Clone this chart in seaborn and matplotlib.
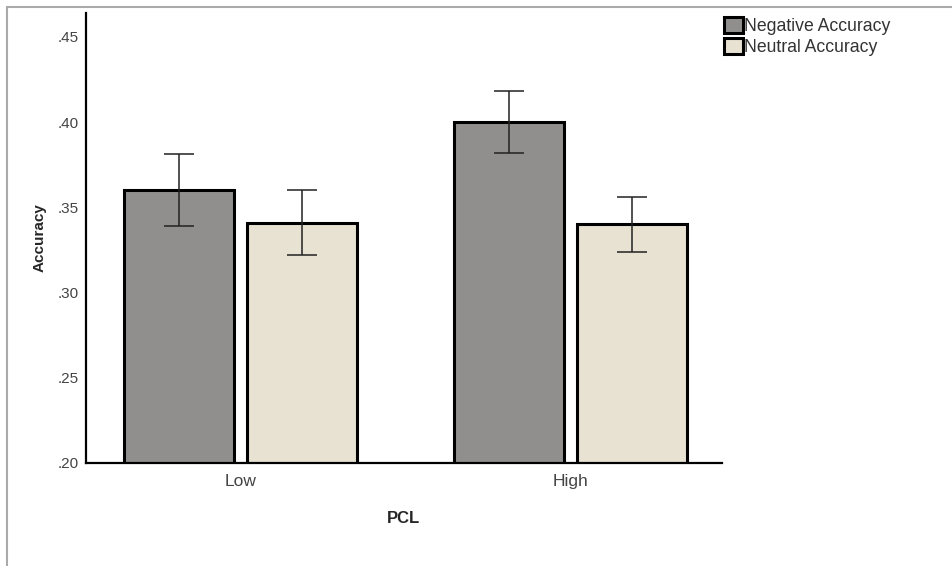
import numpy as np
import pandas as pd
import matplotlib
matplotlib.use("Agg")

import matplotlib.pyplot as plt
import seaborn as sns
from matplotlib.patches import Rectangle

# Data
pcl = ["Low", "High"]
conditions = ["Negative Accuracy", "Neutral Accuracy"]

neg_mean = [0.360, 0.400]
neu_mean = [0.341, 0.340]

neg_lo = [0.339, 0.382]
neg_hi = [0.381, 0.418]
neu_lo = [0.322, 0.324]
neu_hi = [0.360, 0.356]

colors = ["#918d8d", "#eae4cf"]

df = pd.DataFrame({
    "PCL": pcl * 2,
    "Accuracy": neg_mean + neu_mean,
    "Condition": [conditions[0]] * 2 + [conditions[1]] * 2
})

sns.set_style("white")
plt.rcParams["font.family"] = ["Liberation Sans", "DejaVu Sans"]

fig = plt.figure(figsize=(9.52, 5.66), dpi=100)
ax = fig.add_axes([86 / 952, 1 - 463 / 566, 636 / 952, 450 / 566])

sns.barplot(
    data=df,
    x="PCL",
    y="Accuracy",
    hue="Condition",
    order=pcl,
    hue_order=conditions,
    palette=colors,
    errorbar=None,
    width=0.745,
    gap=0.105,
    edgecolor="black",
    linewidth=2.2,
    ax=ax
)

# Error bars (95% CI)
lows = [neg_lo, neu_lo]
highs = [neg_hi, neu_hi]
means = [neg_mean, neu_mean]

for cont, m, lo, hi in zip(ax.containers, means, lows, highs):
    xs = [p.get_x() + p.get_width() / 2 for p in cont.patches]
    m = np.array(m)
    yerr = [m - np.array(lo), np.array(hi) - m]
    ax.errorbar(
        xs, m, yerr=yerr,
        fmt="none",
        ecolor="#222222",
        elinewidth=1.1,
        capsize=10.8,
        capthick=1.1,
        zorder=5
    )

ax.set_xlim(-0.467, 1.46)
ax.set_ylim(0.20, 0.464)
ax.set_yticks([0.20, 0.25, 0.30, 0.35, 0.40, 0.45])
ax.set_yticklabels([".20", ".25", ".30", ".35", ".40", ".45"])

ax.tick_params(axis="both", length=0, labelcolor="#444444")
ax.tick_params(axis="y", pad=5, labelsize=11)
ax.tick_params(axis="x", pad=8, labelsize=12.5)

ax.set_xlabel("PCL", fontsize=12, fontweight="bold", labelpad=16)
ax.set_ylabel("Accuracy", fontsize=11, fontweight="bold", labelpad=8)

for side in ["top", "right"]:
    ax.spines[side].set_visible(False)
for side in ["left", "bottom"]:
    ax.spines[side].set_color("black")
    ax.spines[side].set_linewidth(1.6)

leg = ax.legend(
    loc="upper left",
    bbox_to_anchor=(724 / 952, 1 - 17 / 566),
    bbox_transform=fig.transFigure,
    frameon=False,
    fontsize=12.7,
    handlelength=1.05,
    handleheight=1.05,
    handletextpad=0.1,
    labelspacing=0.15,
    borderaxespad=0,
    borderpad=0
)
for h in leg.legend_handles:
    h.set_edgecolor("black")
    h.set_linewidth(2.2)
for t in leg.get_texts():
    t.set_color("#333333")

# Outer frame
fig.patches.append(Rectangle(
    (7 / 952, -0.1), 1.2, 1 - 7 / 566 + 0.1,
    transform=fig.transFigure,
    fill=False,
    edgecolor="#aaaaaa",
    linewidth=1.5
))

fig.savefig("out.png", dpi=100)
